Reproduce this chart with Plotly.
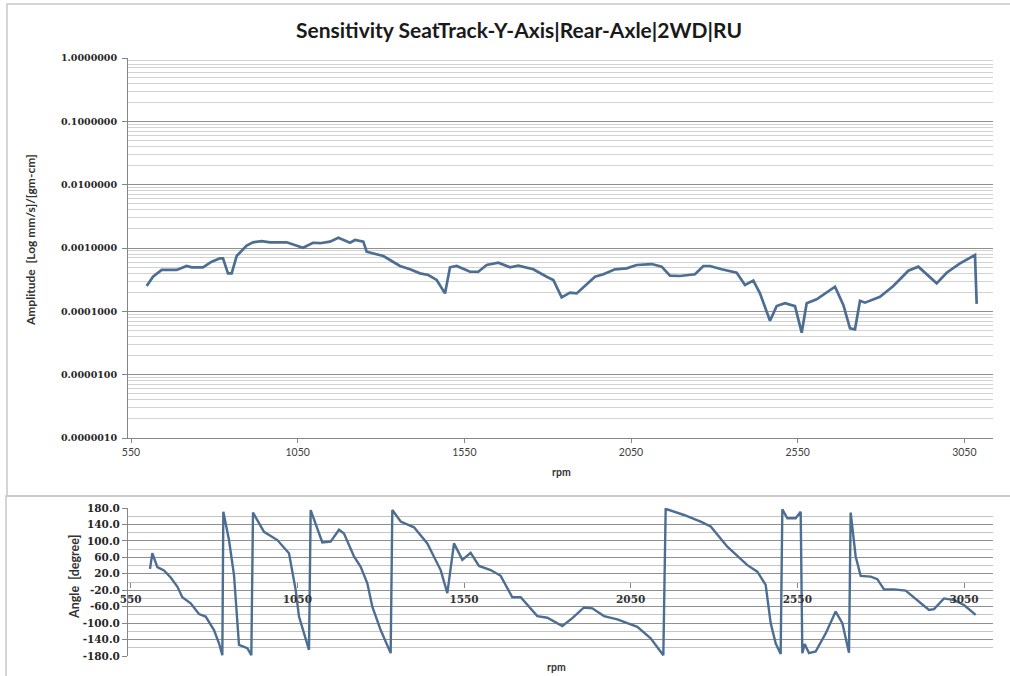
import plotly.graph_objects as go

# ---------------- data ----------------
amp_rpm = [597, 616, 642, 687, 717, 732, 766, 792, 817, 826, 841, 852, 867, 897, 916, 942, 967,
           1017, 1066, 1096, 1117, 1147, 1172, 1182, 1207, 1222, 1247, 1257, 1307, 1327, 1357,
           1387, 1417, 1442, 1467, 1492, 1507, 1527, 1567, 1592, 1617, 1652, 1687, 1712, 1757,
           1797, 1817, 1842, 1867, 1887, 1912, 1942, 1967, 2002, 2037, 2067, 2112, 2142, 2167,
           2197, 2242, 2267, 2287, 2322, 2367, 2392, 2417, 2437, 2467, 2487, 2512, 2542, 2562,
           2577, 2607, 2637, 2662, 2687, 2707, 2722, 2737, 2752, 2797, 2837, 2882, 2912, 2967,
           2997, 3037, 3082, 3087]
amp_val = [2.51e-4, 3.52e-4, 4.50e-4, 4.50e-4, 5.20e-4, 4.96e-4, 4.96e-4, 6.08e-4, 6.88e-4, 6.88e-4,
           3.98e-4, 3.98e-4, 7.48e-4, 1.09e-3, 1.23e-3, 1.28e-3, 1.23e-3, 1.23e-3, 1.01e-3, 1.21e-3,
           1.19e-3, 1.26e-3, 1.45e-3, 1.37e-3, 1.21e-3, 1.34e-3, 1.26e-3, 8.73e-4, 7.48e-4, 6.46e-4,
           5.20e-4, 4.61e-4, 3.98e-4, 3.75e-4, 3.13e-4, 1.92e-4, 4.96e-4, 5.20e-4, 4.22e-4, 4.22e-4,
           5.39e-4, 5.86e-4, 4.96e-4, 5.25e-4, 4.61e-4, 3.52e-4, 3.13e-4, 1.66e-4, 1.97e-4, 1.92e-4,
           2.51e-4, 3.52e-4, 3.85e-4, 4.61e-4, 4.78e-4, 5.39e-4, 5.58e-4, 5.07e-4, 3.65e-4, 3.61e-4,
           3.85e-4, 5.20e-4, 5.20e-4, 4.61e-4, 4.07e-4, 2.61e-4, 3.05e-4, 1.92e-4, 7.11e-5, 1.21e-4,
           1.34e-4, 1.21e-4, 4.60e-5, 1.34e-4, 1.55e-4, 1.97e-4, 2.45e-4, 1.26e-4, 5.40e-5, 5.20e-5,
           1.47e-4, 1.37e-4, 1.70e-4, 2.51e-4, 4.38e-4, 5.07e-4, 2.77e-4, 4.07e-4, 5.73e-4, 7.75e-4,
           1.31e-4]

ang_rpm = [608, 615, 630, 650, 670, 690, 705, 730, 755, 775, 800, 815, 825, 828, 845, 860, 875, 900,
           912, 917, 950, 990, 1025, 1045, 1055, 1085, 1090, 1125, 1150, 1175, 1190, 1220, 1240,
           1260, 1275, 1300, 1330, 1335, 1360, 1400, 1440, 1480, 1500, 1520, 1545, 1570, 1595, 1630,
           1660, 1695, 1720, 1735, 1770, 1800, 1845, 1875, 1910, 1935, 1970, 2010, 2070, 2110, 2148,
           2155, 2210, 2260, 2290, 2340, 2400, 2430, 2455, 2470, 2485, 2500, 2505, 2520, 2545, 2560,
           2565, 2572, 2585, 2605, 2635, 2665, 2685, 2705, 2710, 2725, 2740, 2770, 2790, 2810, 2840,
           2875, 2910, 2945, 2960, 2990, 3020, 3050, 3085]
ang_val = [32, 70, 36, 28, 11, -11, -37, -52, -78, -84, -117, -149, -178, 171, 102, 17, -153, -161,
           -178, 169, 122, 102, 70, -19, -84, -165, 175, 96, 98, 127, 118, 62, 37,
           -3, -60, -117, -173, 175, 147, 133, 94, 29, -27, 94, 54, 71, 39, 29,
           15, -37, -37, -50, -83, -87, -107, -88, -62, -64, -83, -91, -109, -137, -178,
           178, 163, 147, 135, 86, 41, 25, -7, -100, -149, -175, 177, 155, 155, 171,
           -173, -151, -173, -169, -125, -72, -100, -172, 169, 62, 15, 13, 7, -18, -18,
           -21, -44, -68, -66, -40, -44, -56, -80]

rpm_ticks = [550, 1050, 1550, 2050, 2550, 3050]
rpm_labels = ["550", "1050", "1550", "2050", "2550", "3050"]
amp_ticks = [1e-6, 1e-5, 1e-4, 1e-3, 1e-2, 1e-1, 1.0]
amp_labels = ["0.0000010", "0.0000100", "0.0001000", "0.0010000", "0.0100000", "0.1000000", "1.0000000"]
ang_ticks = [-180, -140, -100, -60, -20, 20, 60, 100, 140, 180]
ang_labels = ["-180.0", "-140.0", "-100.0", "-60.0", "-20.0", "20.0", "60.0", "100.0", "140.0", "180.0"]

title_text = "Sensitivity SeatTrack-Y-Axis|Rear-Axle|2WD|RU"

# ---------------- layout helpers ----------------
W, H = 1010, 676
def px(x):
    return x / W
def py(y):
    return 1 - y / H

LINE = "#4d6e93"
AXC = "#868686"
MAJ = "#8f8f8f"
MIN = "#d2d2d2"
SERIF = "DejaVu Serif"

fig = go.Figure()
fig.add_trace(go.Scatter(x=amp_rpm, y=amp_val, mode="lines", xaxis="x", yaxis="y",
                         line=dict(color=LINE, width=2.7), showlegend=False))
fig.add_trace(go.Scatter(x=ang_rpm, y=ang_val, mode="lines", xaxis="x2", yaxis="y2",
                         line=dict(color=LINE, width=2.4), showlegend=False))

xdom = [px(128), px(993)]
top_dom = [py(438), py(58)]
bot_dom = [py(656), py(508)]
zero_pos = bot_dom[0] + 0.5 * (bot_dom[1] - bot_dom[0])

fig.update_layout(
    width=W, height=H, margin=dict(l=0, r=0, t=0, b=0, autoexpand=False),
    paper_bgcolor="white", plot_bgcolor="white",
    title=dict(text="<b>" + title_text + "</b>", x=px(519), y=py(31), xanchor="center", yanchor="middle",
               font=dict(family="Lato", size=21, color="#1a1a1a")),
    xaxis=dict(domain=xdom, range=[541, 3136], anchor="y", tickvals=rpm_ticks, ticktext=rpm_labels,
               automargin=False,
               showgrid=False, zeroline=False, showline=True, linecolor=AXC, linewidth=1,
               ticks="outside", ticklen=4, tickcolor=AXC,
               tickfont=dict(family="Lato", size=10.5, color="#404040")),
    yaxis=dict(domain=top_dom, type="log", range=[-6, 0], anchor="x", tickvals=amp_ticks, ticktext=amp_labels,
               automargin=False,
               showgrid=True, gridcolor=MAJ, gridwidth=1, zeroline=False,
               showline=True, linecolor=AXC, linewidth=1, ticks="outside", ticklen=5, tickcolor=AXC,
               ticklabelstandoff=3,
               minor=dict(dtick="D1", showgrid=True, gridcolor=MIN, gridwidth=1, ticks=""),
               tickfont=dict(family=SERIF, size=9.5, color="#262626", weight="bold")),
    xaxis2=dict(domain=xdom, range=[542, 3137], anchor="free", position=zero_pos,
                automargin=False,
                tickvals=rpm_ticks, ticktext=rpm_labels, showgrid=False, zeroline=False, showline=False,
                ticks="outside", ticklen=5, tickcolor=AXC, ticklabelstandoff=2,
                tickfont=dict(family=SERIF, size=10.5, color="#333333", weight="bold")),
    yaxis2=dict(domain=bot_dom, range=[-180, 180], anchor="x2", tickvals=ang_ticks, ticktext=ang_labels,
                automargin=False,
                showgrid=True, gridcolor=MAJ, gridwidth=1, zeroline=False,
                showline=True, linecolor=AXC, linewidth=1, ticks="outside", ticklen=5, tickcolor=AXC,
                minor=dict(tick0=-180, dtick=20, showgrid=True, gridcolor="#c4c4c4", gridwidth=1, ticks=""),
                tickfont=dict(family=SERIF, size=10.5, color="#262626", weight="bold")),
    annotations=[
        dict(text="<b>rpm</b>", x=px(561), y=py(472), xref="paper", yref="paper", showarrow=False,
             xanchor="center", yanchor="middle",
             font=dict(family="Lato", size=10.5, color="#333333")),
        dict(text="<b>rpm</b>", x=px(556), y=py(667), xref="paper", yref="paper", showarrow=False,
             xanchor="center", yanchor="middle",
             font=dict(family="Lato", size=10.5, color="#333333")),
        dict(text="<b>Amplitude  [Log mm/s]/[gm-cm]</b>", x=px(30), y=py(240), xref="paper", yref="paper",
             xanchor="center", yanchor="middle",
             showarrow=False, textangle=-90, font=dict(family="Lato", size=12, color="#333333")),
        dict(text="<b>Angle  [degree]</b>", x=px(74), y=py(577), xref="paper", yref="paper",
             xanchor="center", yanchor="middle",
             showarrow=False, textangle=-90, font=dict(family="Lato", size=12.5, color="#333333")),
    ],
    shapes=[
        dict(type="rect", xref="paper", yref="paper", x0=px(7), y0=py(496), x1=px(1014), y1=py(4),
             line=dict(color="#c8c8c8", width=1.5), fillcolor="rgba(0,0,0,0)", layer="below"),
        dict(type="rect", xref="paper", yref="paper", x0=px(6), y0=py(690), x1=px(1014), y1=py(496),
             line=dict(color="#c8c8c8", width=1.5), fillcolor="rgba(0,0,0,0)", layer="below"),
    ],
)

fig.write_html("out.html")
